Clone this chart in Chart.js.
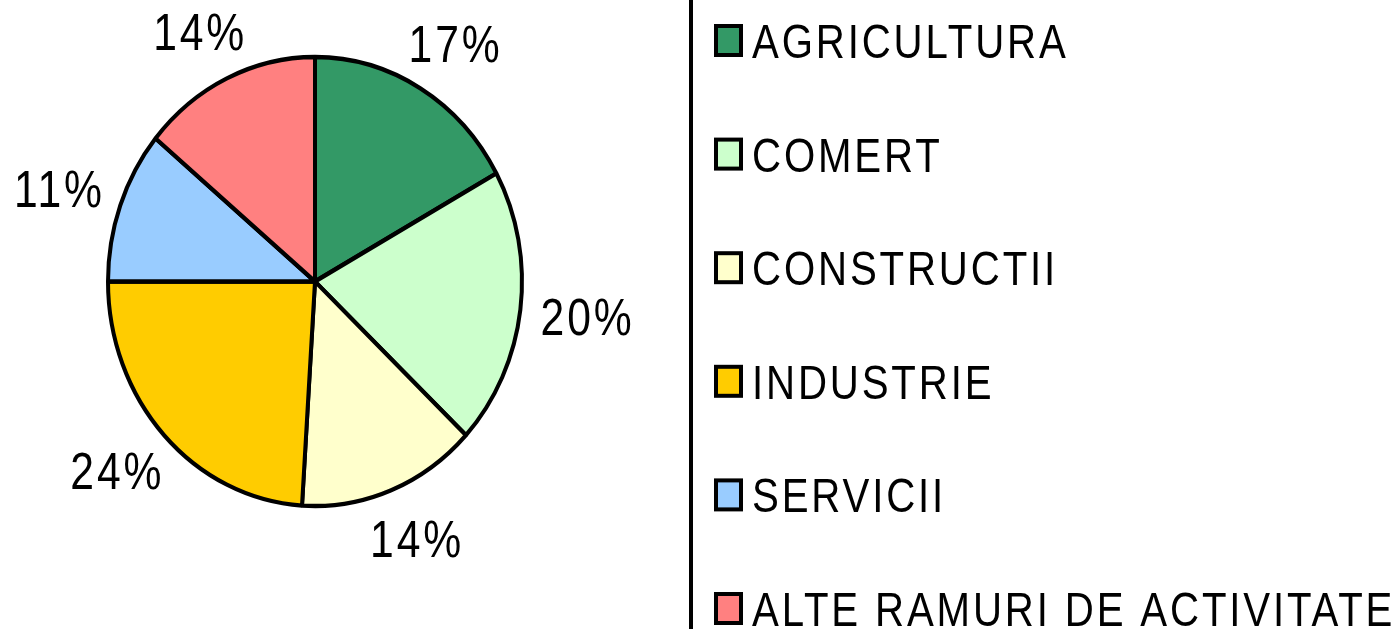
<!DOCTYPE html>
<html>
<head>
<meta charset="utf-8">
<script src="https://cdn.jsdelivr.net/npm/chart.js@4.4.1/dist/chart.umd.min.js"></script>
<style>
  html, body { margin: 0; padding: 0; background: #fff; overflow: hidden; }
  #wrap { width: 1398px; height: 629px; }
</style>
</head>
<body>
<div id="wrap"><canvas id="ch_sectors" width="1398" height="629"></canvas></div>
<script>
/* Distribution by sector of activity (%) */
const sectors = ['AGRICULTURA', 'COMERT', 'CONSTRUCTII', 'INDUSTRIE', 'SERVICII', 'ALTE RAMURI DE ACTIVITATE'];
const shares = [17, 20, 14, 24, 11, 14];
const sectorColors = ['#339966', '#CCFFCC', '#FFFFCC', '#FFCC00', '#99CCFF', '#FF8080'];

const FONT = "'Liberation Sans', Arial, sans-serif";
const NARROW = 0.82;             // no narrow face installed, squeeze Arial-metric text instead
const STRETCH_Y = 224.5 / 207;   // old excel pie is a bit taller than wide

function narrowText(ctx, text, x, y) {
  ctx.save();
  ctx.translate(x, y);
  ctx.scale(NARROW, 1);
  ctx.fillText(text, 0, 0);
  ctx.restore();
}

// stretch the slices vertically around the pie centre
const ovalPie = {
  id: 'ovalPie',
  beforeDatasetsDraw(chart) {
    const { ctx, chartArea: a } = chart;
    const cy = (a.top + a.bottom) / 2;
    ctx.save();
    ctx.translate(0, cy);
    ctx.scale(1, STRETCH_Y);
    ctx.translate(0, -cy);
  },
  afterDatasetsDraw(chart) {
    chart.ctx.restore();
  }
};

// percentage labels outside each slice
const sliceLabels = {
  id: 'sliceLabels',
  afterDraw(chart) {
    const { ctx } = chart;
    const meta = chart.getDatasetMeta(0);
    const size = 52;
    ctx.save();
    ctx.font = `${size}px ${FONT}`;
    ctx.letterSpacing = '3.5px';
    ctx.fillStyle = '#000';
    ctx.textAlign = 'center';
    ctx.textBaseline = 'alphabetic';
    meta.data.forEach((arc, i) => {
      const p = arc.getProps(['x', 'y', 'startAngle', 'endAngle', 'outerRadius']);
      const mid = (p.startAngle + p.endAngle) / 2;
      const x = p.x + Math.cos(mid) * p.outerRadius * 1.32;
      const y = p.y + Math.sin(mid) * p.outerRadius * STRETCH_Y * 1.23;
      narrowText(ctx, shares[i] + '%', x + 1.5, y + size * 0.358);
    });
    ctx.restore();
  }
};

// legend box on the right, cut by the page edge like the original
const sideLegend = {
  id: 'sideLegend',
  afterDraw(chart) {
    const { ctx } = chart;
    const ds = chart.data.datasets[0];
    const rowTop = 40.5, rowStep = 113.6, size = 49;
    ctx.save();
    ctx.fillStyle = '#000';
    ctx.fillRect(689, 0, 4, chart.height);
    ctx.font = `${size}px ${FONT}`;
    ctx.letterSpacing = '3.5px';
    ctx.textAlign = 'left';
    ctx.textBaseline = 'alphabetic';
    chart.data.labels.forEach((lab, i) => {
      const cy = rowTop + i * rowStep;
      ctx.fillStyle = ds.backgroundColor[i];
      ctx.fillRect(716, cy - 14.5, 25, 29);
      ctx.lineWidth = 4;
      ctx.strokeStyle = '#000';
      ctx.strokeRect(716, cy - 14.5, 25, 29);
      ctx.fillStyle = '#000';
      narrowText(ctx, lab, 752, cy + size * 0.358);
    });
    ctx.restore();
  }
};

new Chart(document.getElementById('ch_sectors').getContext('2d'), {
  type: 'pie',
  data: {
    labels: sectors,
    datasets: [{
      data: shares,
      backgroundColor: sectorColors,
      borderColor: '#000',
      borderWidth: 4,
      clip: false
    }]
  },
  options: {
    responsive: false,
    animation: false,
    events: [],
    radius: 207,
    layout: { padding: { left: 0, top: 0, right: 768, bottom: 66 } },
    plugins: {
      legend: { display: false },
      tooltip: { enabled: false }
    }
  },
  plugins: [ovalPie, sliceLabels, sideLegend]
});
</script>
</body>
</html>
